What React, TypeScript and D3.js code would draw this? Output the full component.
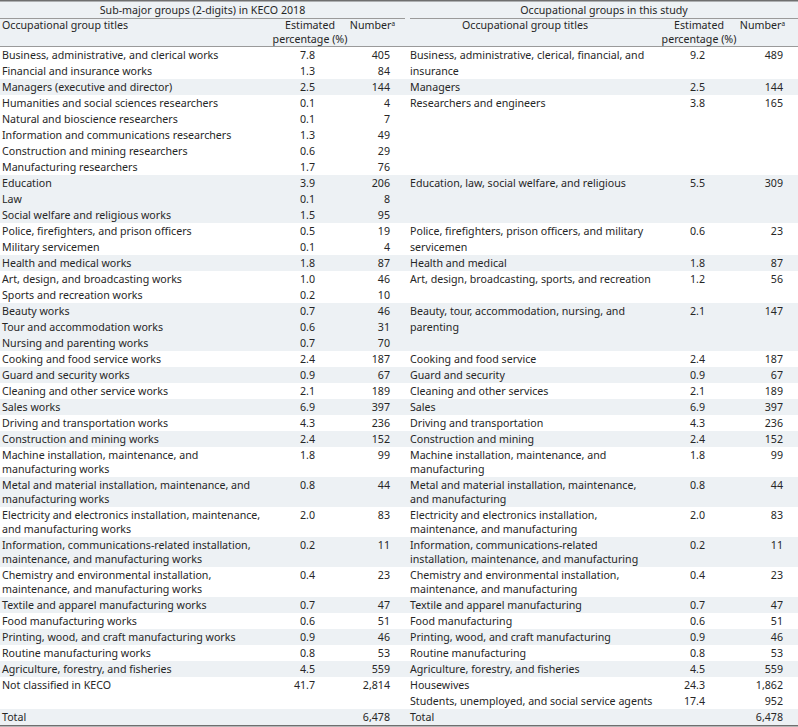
import React, { useEffect, useRef } from "react";
import * as d3 from "d3";

// ---------- DATA ----------
const headerLeft = "Sub-major groups (2-digits) in KECO 2018";
const headerRight = "Occupational groups in this study";
const colTitle = "Occupational group titles";
const colPct = ["Estimated", "percentage (%)"];
const colNum = "Number";

const leftTitles: string[][] = [
  ["Business, administrative, and clerical works"],
  ["Financial and insurance works"],
  ["Managers (executive and director)"],
  ["Humanities and social sciences researchers"],
  ["Natural and bioscience researchers"],
  ["Information and communications researchers"],
  ["Construction and mining researchers"],
  ["Manufacturing researchers"],
  ["Education"],
  ["Law"],
  ["Social welfare and religious works"],
  ["Police, firefighters, and prison officers"],
  ["Military servicemen"],
  ["Health and medical works"],
  ["Art, design, and broadcasting works"],
  ["Sports and recreation works"],
  ["Beauty works"],
  ["Tour and accommodation works"],
  ["Nursing and parenting works"],
  ["Cooking and food service works"],
  ["Guard and security works"],
  ["Cleaning and other service works"],
  ["Sales works"],
  ["Driving and transportation works"],
  ["Construction and mining works"],
  ["Machine installation, maintenance, and", "manufacturing works"],
  ["Metal and material installation, maintenance, and", "manufacturing works"],
  ["Electricity and electronics installation, maintenance,", "and manufacturing works"],
  ["Information, communications-related installation,", "maintenance, and manufacturing works"],
  ["Chemistry and environmental installation,", "maintenance, and manufacturing works"],
  ["Textile and apparel manufacturing works"],
  ["Food manufacturing works"],
  ["Printing, wood, and craft manufacturing works"],
  ["Routine manufacturing works"],
  ["Agriculture, forestry, and fisheries"],
  ["Not classified in KECO"],
];
const leftPct = [
  "7.8", "1.3", "2.5", "0.1", "0.1", "1.3", "0.6", "1.7", "3.9", "0.1", "1.5", "0.5", "0.1",
  "1.8", "1.0", "0.2", "0.7", "0.6", "0.7", "2.4", "0.9", "2.1", "6.9", "4.3", "2.4", "1.8",
  "0.8", "2.0", "0.2", "0.4", "0.7", "0.6", "0.9", "0.8", "4.5", "41.7",
];
const leftNum = [
  "405", "84", "144", "4", "7", "49", "29", "76", "206", "8", "95", "19", "4", "87", "46", "10",
  "46", "31", "70", "187", "67", "189", "397", "236", "152", "99", "44", "83", "11", "23", "47",
  "51", "46", "53", "559", "2,814",
];

const rightTitles: string[][] = [
  ["Business, administrative, clerical, financial, and", "insurance"],
  ["Managers"],
  ["Researchers and engineers"],
  ["Education, law, social welfare, and religious"],
  ["Police, firefighters, prison officers, and military", "servicemen"],
  ["Health and medical"],
  ["Art, design, broadcasting, sports, and recreation"],
  ["Beauty, tour, accommodation, nursing, and", "parenting"],
  ["Cooking and food service"],
  ["Guard and security"],
  ["Cleaning and other services"],
  ["Sales"],
  ["Driving and transportation"],
  ["Construction and mining"],
  ["Machine installation, maintenance, and", "manufacturing"],
  ["Metal and material installation, maintenance,", "and manufacturing"],
  ["Electricity and electronics installation,", "maintenance, and manufacturing"],
  ["Information, communications-related", "installation, maintenance, and manufacturing"],
  ["Chemistry and environmental installation,", "maintenance, and manufacturing"],
  ["Textile and apparel manufacturing"],
  ["Food manufacturing"],
  ["Printing, wood, and craft manufacturing"],
  ["Routine manufacturing"],
  ["Agriculture, forestry, and fisheries"],
  ["Housewives"],
  ["Students, unemployed, and social service agents"],
];
const rightPct = [
  "9.2", "2.5", "3.8", "5.5", "0.6", "1.8", "1.2", "2.1", "2.4", "0.9", "2.1", "6.9", "4.3",
  "2.4", "1.8", "0.8", "2.0", "0.2", "0.4", "0.7", "0.6", "0.9", "0.8", "4.5", "24.3", "17.4",
];
const rightNum = [
  "489", "144", "165", "309", "23", "87", "56", "147", "187", "67", "189", "397", "236", "152",
  "99", "44", "83", "11", "23", "47", "51", "46", "53", "559", "1,862", "952",
];

// how many left rows / right rows each shaded band holds
const bandLeftCount = [2, 1, 5, 3, 2, 1, 2, 3, 1, 1, 1, 1, 1, 1, 1, 1, 1, 1, 1, 1, 1, 1, 1, 1, 1];
const bandRightCount = [1, 1, 1, 1, 1, 1, 1, 1, 1, 1, 1, 1, 1, 1, 1, 1, 1, 1, 1, 1, 1, 1, 1, 1, 2];

const totalLabel = "Total";
const totalLeft = "6,478";
const totalRight = "6,478";

// ---------- LAYOUT ----------
const W = 798;
const H = 727;
const FONT = "'Noto Sans', sans-serif";
const FS = 10.65;
const TEXT = "#262626";
const SHADE = "#edf1f4";
const LINE_H = 14;
const rowH = (lines: number) => 2 + LINE_H * lines;

export default function App() {
  const ref = useRef<SVGSVGElement | null>(null);

  useEffect(() => {
    const svg = d3.select(ref.current);
    svg.selectAll("*").remove();

    // columns
    const col = d3
      .scaleOrdinal<string, number>()
      .domain(["lTitle", "lPct", "lNum", "rTitle", "rPct", "rNum", "lEnd", "rStart"])
      .range([2, 315, 390, 410, 705, 783, 405, 410]);

    // build bands
    type Row = { lines: string[]; pct: string; num: string };
    type Band = { left: Row[]; right: Row[]; h: number; top: number; shade: boolean };
    const bands: Band[] = [];
    let li = 0;
    let ri = 0;
    bandLeftCount.forEach((lc, b) => {
      const left: Row[] = d3.range(lc).map((k) => ({
        lines: leftTitles[li + k],
        pct: leftPct[li + k],
        num: leftNum[li + k],
      }));
      li += lc;
      const rc = bandRightCount[b];
      const right: Row[] = d3.range(rc).map((k) => ({
        lines: rightTitles[ri + k],
        pct: rightPct[ri + k],
        num: rightNum[ri + k],
      }));
      ri += rc;
      const hl = d3.sum(left, (r) => rowH(r.lines.length));
      const hr = d3.sum(right, (r) => rowH(r.lines.length));
      bands.push({ left, right, h: Math.max(hl, hr), top: 0, shade: b % 2 === 1 });
    });
    const bodyH = d3.sum(bands, (b) => b.h) + rowH(1);
    const y = d3.scaleLinear().domain([0, bodyH]).range([47, 47 + bodyH]);
    let acc = 0;
    bands.forEach((b) => {
      b.top = acc;
      acc += b.h;
    });
    const totalTop = acc;

    const g = svg.append("g").attr("font-family", FONT).attr("font-size", FS).attr("fill", TEXT);

    // header background
    g.append("rect").attr("x", 0).attr("y", 0).attr("width", W).attr("height", 46).attr("fill", SHADE);

    // band backgrounds
    g.selectAll("rect.band")
      .data(bands.filter((b) => b.shade))
      .join("rect")
      .attr("class", "band")
      .attr("x", 0)
      .attr("width", W)
      .attr("y", (b) => y(b.top))
      .attr("height", (b) => y(b.top + b.h) - y(b.top))
      .attr("fill", SHADE);
    g.append("rect")
      .attr("x", 0)
      .attr("width", W)
      .attr("y", y(totalTop))
      .attr("height", y(totalTop + rowH(1)) - y(totalTop))
      .attr("fill", SHADE);

    // header lines
    g.append("line").attr("x1", 0).attr("x2", W).attr("y1", 0.75).attr("y2", 0.75)
      .attr("stroke", "#6f6f6f").attr("stroke-width", 1.5);
    g.append("line").attr("x1", 0).attr("x2", col("lEnd")).attr("y1", 18.5).attr("y2", 18.5)
      .attr("stroke", "#9a9a9a").attr("stroke-width", 1);
    g.append("line").attr("x1", col("rStart")).attr("x2", W).attr("y1", 18.5).attr("y2", 18.5)
      .attr("stroke", "#9a9a9a").attr("stroke-width", 1);
    g.append("line").attr("x1", 0).attr("x2", W).attr("y1", 46.5).attr("y2", 46.5)
      .attr("stroke", "#9a9a9a").attr("stroke-width", 1);
    g.append("line").attr("x1", 0).attr("x2", W).attr("y1", y(bodyH) + 0.75).attr("y2", y(bodyH) + 0.75)
      .attr("stroke", "#6f6f6f").attr("stroke-width", 1.5);

    const txt = (x: number, yy: number, s: string, anchor = "start") =>
      g.append("text").attr("x", x).attr("y", yy).attr("dy", "0.35em").attr("text-anchor", anchor).text(s);

    // headers
    txt(col("lEnd") / 2, 10, headerLeft, "middle");
    txt((col("rStart") + W) / 2, 10, headerRight, "middle");
    txt(col("lTitle"), 25, colTitle);
    txt(525, 25, colTitle, "middle");
    txt(310, 25, colPct[0], "middle");
    txt(310, 39, colPct[1], "middle");
    txt(699, 25, colPct[0], "middle");
    txt(699, 39, colPct[1], "middle");
    [395, 785].forEach((x) => {
      const t = txt(x, 25, colNum, "end");
      t.append("tspan").attr("dy", "-0.4em").attr("font-size", FS * 0.6).text("a");
    });

    // body
    bands.forEach((b) => {
      let off = b.top;
      b.left.forEach((r) => {
        r.lines.forEach((ln, k) => txt(col("lTitle"), y(off + 8 + k * LINE_H), ln));
        txt(col("lPct"), y(off + 8), r.pct, "end");
        txt(col("lNum"), y(off + 8), r.num, "end");
        off += rowH(r.lines.length);
      });
      let roff = b.top;
      const gap = b.left.length > 1 ? 16 : LINE_H;
      b.right.forEach((r) => {
        r.lines.forEach((ln, k) => txt(col("rTitle"), y(roff + 8 + k * gap), ln));
        txt(col("rPct"), y(roff + 8), r.pct, "end");
        txt(col("rNum"), y(roff + 8), r.num, "end");
        roff += rowH(r.lines.length);
      });
    });

    // total
    txt(col("lTitle"), y(totalTop + 8), totalLabel);
    txt(col("lNum"), y(totalTop + 8), totalLeft, "end");
    txt(col("rTitle"), y(totalTop + 8), totalLabel);
    txt(col("rNum"), y(totalTop + 8), totalRight, "end");
  }, []);

  return (
    <svg
      ref={ref}
      width={W}
      height={H}
      style={{ position: "absolute", left: 0, top: 0, background: "#fff" }}
    />
  );
}
